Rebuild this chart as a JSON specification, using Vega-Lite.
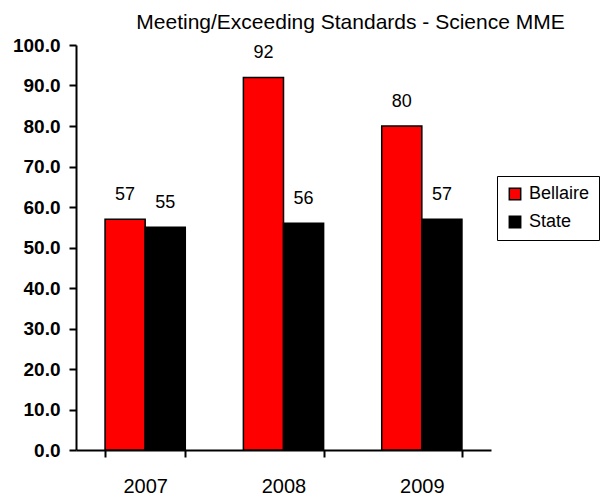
{
  "$schema": "https://vega.github.io/schema/vega-lite/v6.json",
  "width": 415,
  "height": 405,
  "autosize": {"type": "none"},
  "padding": {"left": 76, "top": 45, "right": 111, "bottom": 47},
  "background": "white",
  "config": {"view": {"stroke": null}},
  "title": {
    "text": "Meeting/Exceeding Standards - Science MME",
    "anchor": "middle",
    "dx": 67,
    "fontSize": 21,
    "fontWeight": "normal",
    "font": "Liberation Sans",
    "color": "black",
    "offset": 3
  },
  "data": {
    "values": [
      {"year": "2007", "group": "Bellaire", "value": 57},
      {"year": "2007", "group": "State", "value": 55},
      {"year": "2008", "group": "Bellaire", "value": 92},
      {"year": "2008", "group": "State", "value": 56},
      {"year": "2009", "group": "Bellaire", "value": 80},
      {"year": "2009", "group": "State", "value": 57}
    ]
  },
  "encoding": {
    "x": {
      "field": "year",
      "type": "nominal",
      "scale": {"paddingInner": 0.42, "paddingOuter": 0.21},
      "axis": {
        "title": null,
        "labelAngle": 0,
        "labelFont": "Liberation Sans",
        "labelFontSize": 20,
        "labelColor": "black",
        "labelPadding": 19,
        "domainColor": "black",
        "domainWidth": 2,
        "tickColor": "black",
        "tickWidth": 2,
        "tickSize": 7,
        "tickBand": "extent"
      }
    },
    "xOffset": {"field": "group", "type": "nominal", "sort": ["Bellaire", "State"]},
    "y": {
      "field": "value",
      "type": "quantitative",
      "scale": {"domain": [0, 100], "nice": false},
      "axis": {
        "title": null,
        "values": [0, 10, 20, 30, 40, 50, 60, 70, 80, 90, 100],
        "format": ".1f",
        "grid": false,
        "labelFont": "Liberation Sans",
        "labelFontSize": 19,
        "labelFontWeight": "bold",
        "labelColor": "black",
        "labelPadding": 9,
        "domainColor": "black",
        "domainWidth": 2,
        "tickColor": "black",
        "tickWidth": 2,
        "tickSize": 7
      }
    }
  },
  "layer": [
    {
      "mark": {"type": "bar", "stroke": "black", "strokeWidth": 1.5},
      "encoding": {
        "color": {
          "field": "group",
          "type": "nominal",
          "sort": ["Bellaire", "State"],
          "scale": {"domain": ["Bellaire", "State"], "range": ["#FF0000", "#000000"]},
          "legend": {
            "title": null,
            "orient": "none",
            "legendX": 421,
            "legendY": 131,
            "padding": 9,
            "strokeColor": "black",
            "fillColor": "white",
            "symbolType": "square",
            "symbolSize": 130,
            "symbolStrokeColor": "black",
            "symbolStrokeWidth": 1.5,
            "symbolOpacity": 1,
            "labelFont": "Liberation Sans",
            "labelFontSize": 18,
            "labelColor": "black",
            "labelOffset": 5,
            "rowPadding": 10
          }
        }
      }
    },
    {
      "mark": {
        "type": "text",
        "baseline": "bottom",
        "dy": -15,
        "font": "Liberation Sans",
        "fontSize": 18,
        "color": "black"
      },
      "encoding": {
        "text": {"field": "value", "type": "quantitative"}
      }
    }
  ]
}
